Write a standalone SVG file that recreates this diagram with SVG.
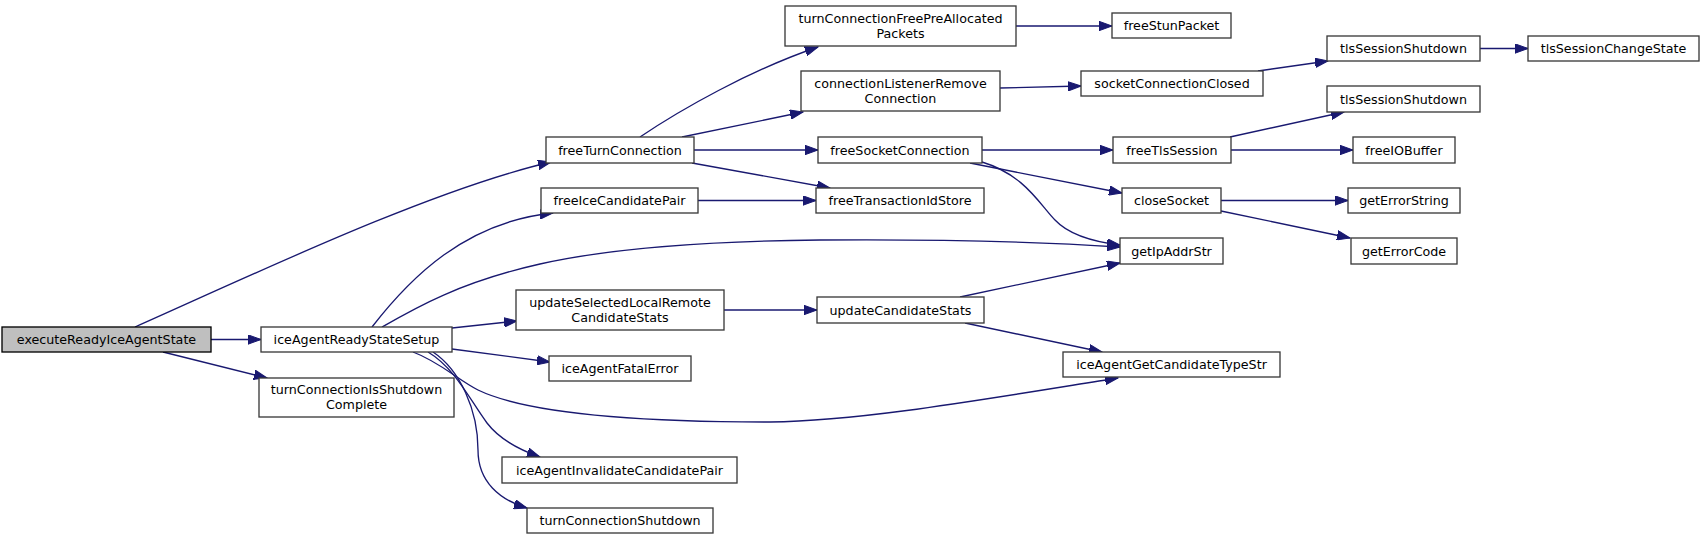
<svg xmlns="http://www.w3.org/2000/svg" width="1704" height="539" viewBox="0 0 1704 539">
<style>
.n rect{fill:#ffffff;stroke:#3a3a3a;stroke-width:1.33}
.n text{font-family:"DejaVu Sans",sans-serif;font-size:12.7px;fill:#000;text-anchor:middle}
#edges path{fill:none;stroke:#191970;stroke-width:1.33;marker-end:url(#arr)}
</style>
<defs>
<marker id="arr" markerUnits="userSpaceOnUse" markerWidth="14" markerHeight="10" refX="13" refY="5" orient="auto" viewBox="0 0 14 10">
<path d="M0,0.3 L13,5 L0,9.7 z" fill="#191970" stroke="#191970" stroke-width="1"/>
</marker>
</defs>
<rect width="1704" height="539" fill="#ffffff"/>
<g id="edges">
<path d="M135,327 C250,276 430,190 551,162"/>
<path d="M211,339.5 L261,339.5"/>
<path d="M163,352 L267,378"/>
<path d="M372,327 C410,278 465,222 553,213"/>
<path d="M382,327 C415,308 460,282 540,264 C620,246 720,241 820,240 C940,239 1040,242 1120,247"/>
<path d="M452,328 L517,321"/>
<path d="M452,349 L550,362"/>
<path d="M413,352 C440,362 458,380 478,390 C530,415 650,422 770,422 C860,421 980,400 1118,378"/>
<path d="M428,352 C455,368 470,400 487,423 C500,440 520,450 540,457"/>
<path d="M433,352 C460,370 478,410 478,450 C478,482 500,500 527,508"/>
<path d="M640,137 C680,110 750,70 818,47"/>
<path d="M682,137 L803,112"/>
<path d="M694,150 L818,150"/>
<path d="M692,163 L830,188"/>
<path d="M698,200.5 L816,200.5"/>
<path d="M1016,26 L1112,26"/>
<path d="M1000,88 L1081,86"/>
<path d="M1258,71 L1328,61"/>
<path d="M1480,48.5 L1528,48.5"/>
<path d="M982,150 L1113,150"/>
<path d="M970,163 L1122,193"/>
<path d="M982,162 C1025,175 1040,205 1055,220 C1070,236 1095,242 1120,245"/>
<path d="M1230,137 L1344,112"/>
<path d="M1231,150 L1353,150"/>
<path d="M1221,200.5 L1348,200.5"/>
<path d="M1221,211 L1350,238"/>
<path d="M724,310 L817,310"/>
<path d="M960,297 L1120,263"/>
<path d="M965,323 L1102,352"/>
</g>
<g id="executeReadyIceAgentState" class="n"><rect x="2" y="327" width="209" height="25" style="fill:#bfbfbf;stroke:#000"/><text x="106.5" y="344">executeReadyIceAgentState</text></g>
<g id="iceAgentReadyStateSetup" class="n"><rect x="261" y="327" width="191" height="25"/><text x="356.5" y="344">iceAgentReadyStateSetup</text></g>
<g id="turnConnectionIsShutdownComplete" class="n"><rect x="259" y="378" width="195" height="39"/><text x="356.5" y="394">turnConnectionIsShutdown</text><text x="356.5" y="409">Complete</text></g>
<g id="freeTurnConnection" class="n"><rect x="546" y="137" width="148" height="26"/><text x="620" y="154.5">freeTurnConnection</text></g>
<g id="freeIceCandidatePair" class="n"><rect x="541" y="188" width="157" height="25"/><text x="619.5" y="205">freeIceCandidatePair</text></g>
<g id="turnConnectionFreePreAllocatedPackets" class="n"><rect x="785" y="6" width="231" height="40"/><text x="900.5" y="22.5">turnConnectionFreePreAllocated</text><text x="900.5" y="37.5">Packets</text></g>
<g id="connectionListenerRemoveConnection" class="n"><rect x="801" y="71" width="199" height="40"/><text x="900.5" y="87.5">connectionListenerRemove</text><text x="900.5" y="102.5">Connection</text></g>
<g id="freeSocketConnection" class="n"><rect x="818" y="137" width="164" height="26"/><text x="900" y="154.5">freeSocketConnection</text></g>
<g id="freeTransactionIdStore" class="n"><rect x="816" y="188" width="168" height="25"/><text x="900" y="205">freeTransactionIdStore</text></g>
<g id="updateSelectedLocalRemoteCandidateStats" class="n"><rect x="516" y="290" width="208" height="40"/><text x="620" y="306.5">updateSelectedLocalRemote</text><text x="620" y="321.5">CandidateStats</text></g>
<g id="iceAgentFatalError" class="n"><rect x="549" y="356" width="142" height="25"/><text x="620" y="373">iceAgentFatalError</text></g>
<g id="iceAgentInvalidateCandidatePair" class="n"><rect x="502" y="457" width="235" height="26"/><text x="619.5" y="474.5">iceAgentInvalidateCandidatePair</text></g>
<g id="turnConnectionShutdown" class="n"><rect x="527" y="508" width="186" height="25"/><text x="620" y="525">turnConnectionShutdown</text></g>
<g id="updateCandidateStats" class="n"><rect x="817" y="297" width="167" height="26"/><text x="900.5" y="314.5">updateCandidateStats</text></g>
<g id="freeStunPacket" class="n"><rect x="1112" y="13" width="119" height="25"/><text x="1171.5" y="30">freeStunPacket</text></g>
<g id="socketConnectionClosed" class="n"><rect x="1081" y="71" width="182" height="25"/><text x="1172" y="88">socketConnectionClosed</text></g>
<g id="freeTlsSession" class="n"><rect x="1113" y="137" width="118" height="26"/><text x="1172" y="154.5">freeTlsSession</text></g>
<g id="closeSocket" class="n"><rect x="1122" y="188" width="99" height="25"/><text x="1171.5" y="205">closeSocket</text></g>
<g id="getIpAddrStr" class="n"><rect x="1120" y="238" width="103" height="26"/><text x="1171.5" y="255.5">getIpAddrStr</text></g>
<g id="iceAgentGetCandidateTypeStr" class="n"><rect x="1063" y="352" width="217" height="25"/><text x="1171.5" y="369">iceAgentGetCandidateTypeStr</text></g>
<g id="tlsSessionShutdown" class="n"><rect x="1327" y="36" width="153" height="25"/><text x="1403.5" y="53">tlsSessionShutdown</text></g>
<g id="tlsSessionShutdown2" class="n"><rect x="1327" y="86" width="153" height="26"/><text x="1403.5" y="103.5">tlsSessionShutdown</text></g>
<g id="freeIOBuffer" class="n"><rect x="1353" y="137" width="102" height="26"/><text x="1404" y="154.5">freeIOBuffer</text></g>
<g id="getErrorString" class="n"><rect x="1348" y="188" width="112" height="25"/><text x="1404" y="205">getErrorString</text></g>
<g id="getErrorCode" class="n"><rect x="1351" y="238" width="106" height="26"/><text x="1404" y="255.5">getErrorCode</text></g>
<g id="tlsSessionChangeState" class="n"><rect x="1528" y="36" width="171" height="25"/><text x="1613.5" y="53">tlsSessionChangeState</text></g>
</svg>
